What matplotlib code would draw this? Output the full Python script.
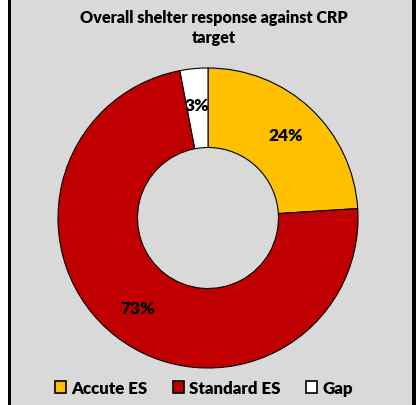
import matplotlib.pyplot as plt
from matplotlib.patches import Rectangle, Patch

# data
labels = ['Accute ES', 'Standard ES', 'Gap']
values = [24, 73, 3]
colors = ['#FFC000', '#C00000', '#FFFFFF']
title = 'Overall shelter response against CRP\ntarget'

plt.rcParams['font.family'] = ['Lato', 'DejaVu Sans']

W, H = 416, 406
fig = plt.figure(figsize=(W / 100, H / 100), dpi=100)
fig.patch.set_facecolor('white')

# grey chart area with black side borders
fig.add_artist(Rectangle((8 / W, 0), (404) / W, 1, transform=fig.transFigure,
                         facecolor='#D9D9D9', edgecolor='none', zorder=0))
fig.add_artist(Rectangle((8 / W, 0), 2.5 / W, 1, transform=fig.transFigure,
                         facecolor='black', edgecolor='none', zorder=1))
fig.add_artist(Rectangle((412 / W, 0), 4 / W, 1, transform=fig.transFigure,
                         facecolor='black', edgecolor='none', zorder=1))

# donut
cx, cy, r = 208, 219, 150
ax = fig.add_axes([(cx - r) / W, (H - cy - r) / H, 2 * r / W, 2 * r / H])
wedges, _, autotexts = ax.pie(values, colors=colors, startangle=90, counterclock=False,
                              autopct='%1.0f%%', pctdistance=0.76,
                              wedgeprops=dict(width=0.53, edgecolor='black', linewidth=0.8),
                              textprops=dict(fontsize=12.5, fontweight='heavy', color='black'))
ax.set_xlim(-1, 1)
ax.set_ylim(-1, 1)
ax.set_aspect('equal')
ax.axis('off')

fig.text(214 / W, 1 - 28 / H, title, ha='center', va='center', fontsize=11.6,
         fontweight='heavy', linespacing=1.3)

handles = [Patch(facecolor=c, edgecolor='black', linewidth=1.2) for c in colors]
fig.legend(handles, labels, loc='center', bbox_to_anchor=(204 / W, 1 - 389 / H), ncol=3,
           frameon=False, prop=dict(size=12.2, weight='heavy'), handlelength=0.65,
           handleheight=0.65, handletextpad=0.3, columnspacing=1.5)

fig.savefig('out.png', dpi=100, facecolor=fig.get_facecolor())
